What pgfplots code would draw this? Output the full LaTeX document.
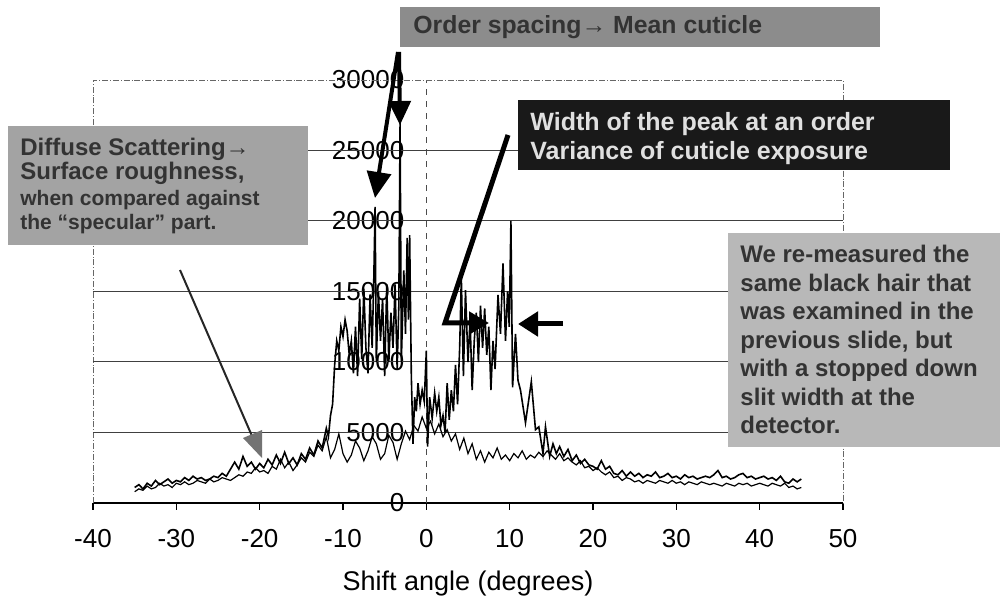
\documentclass[border=0pt]{standalone}
\usepackage{pgfplots}
\pgfplotsset{compat=1.18}
\usepackage{pgfplotstable}
\usetikzlibrary{arrows.meta}
\usepackage{fontspec}
\setmainfont{Liberation Sans}

\definecolor{boxorder}{gray}{0.55}
\definecolor{boxdiffuse}{gray}{0.64}
\definecolor{boxnote}{gray}{0.72}
\definecolor{boxwidth}{gray}{0.1}
\definecolor{inkdark}{gray}{0.2}
\definecolor{inklight}{gray}{0.88}

% narrow slit (stopped-down) scan
\pgfplotstableread{
x y
-35 1100
-34.5 1300
-34 1000
-33.5 1400
-33 1200
-32.5 1600
-32 1300
-31.5 1500
-31 1700
-30.5 1400
-30 1600
-29.5 1500
-29 1800
-28.5 1600
-28 1900
-27.5 1700
-27 1800
-26.5 1600
-26 1700
-25.5 1900
-25 1800
-24.5 2100
-24 1900
-23.5 2400
-23 2900
-22.5 2400
-22 3300
-21.5 2600
-21 2900
-20.5 2400
-20 2800
-19.5 2500
-19 3100
-18.5 2700
-18 3400
-17.5 2800
-17 3600
-16.5 2800
-16 3200
-15.5 2700
-15 3500
-14.5 3100
-14 3900
-13.5 3400
-13 4400
-12.5 3900
-12 5300
-11.75 4700
-11.5 6200
-11.25 7000
-11 9800
-10.75 11500
-10.5 10800
-10.25 12500
-10 11800
-9.75 13000
-9.5 12200
-9.25 10500
-9 11500
-8.75 9200
-8.5 12500
-8.25 9000
-8 14500
-7.75 10200
-7.5 15200
-7.25 11000
-7 9200
-6.75 14800
-6.5 11000
-6.3 16000
-6.15 21000
-6.0 10000
-5.75 15000
-5.5 11500
-5.25 14500
-5 9000
-4.75 15500
-4.5 10000
-4.25 13500
-4 11000
-3.75 15500
-3.5 9500
-3.3 14000
-3.15 27000
-3.0 10000
-2.7 16500
-2.5 12000
-2.3 18800
-2.15 13000
-2.0 19000
-1.8 9000
-1.6 4200
-1.4 7500
-1.2 6500
-1.0 8500
-0.75 7000
-0.5 8000
-0.25 7200
0 10800
0.15 4000
0.4 7500
0.7 6000
1 7800
1.25 6500
1.5 7500
1.75 5500
2 6200
2.25 5000
2.5 8500
2.75 5900
3 8000
3.25 6500
3.5 9800
3.75 7000
4 11000
4.2 16000
4.45 9000
4.7 15100
5 10000
5.25 13000
5.5 8000
5.75 11500
6 13500
6.25 10000
6.5 14000
6.75 11000
7 13800
7.25 10500
7.5 12500
7.75 8000
8 11500
8.25 9500
8.6 14750
8.9 12000
9.2 17000
9.5 11500
9.75 15000
9.95 12500
10.15 20000
10.35 8200
10.7 12000
11 8700
11.3 8000
11.9 5700
12.6 8600
13.1 5200
13.5 5400
14 3500
14.3 5400
14.8 3300
15.2 4200
15.6 3500
16 4000
16.5 3300
17 3800
17.5 3000
18 3400
18.5 2800
19 3100
19.5 2700
20 2600
20.5 2400
21 3000
21.5 2400
22 2600
22.5 2100
23 2000
23.5 2300
24 1900
24.5 2200
25 1900
25.5 2100
26 1800
26.5 2000
27 1900
27.5 2200
28 1800
28.5 1900
29 2100
29.5 1800
30 1900
30.5 1700
31 2000
31.5 1800
32 1900
32.5 1700
33 1800
33.5 1900
34 1800
34.5 2000
35 2300
35.5 1800
36 1900
36.5 1700
37 1800
37.5 2000
38 2100
38.5 1800
39 1900
39.5 1700
40 1800
40.5 1900
41 1700
41.5 1800
42 1600
42.5 1900
43 1500
43.5 1400
44 1700
44.5 1500
45 1700
}\narrowslit

% wide slit scan: broad diffuse profile
\pgfplotstableread{
x y
-35 800
-34.5 1000
-34 900
-33.5 1200
-33 1000
-32.5 1100
-32 1400
-31.5 1200
-31 1300
-30.5 1100
-30 1400
-29.5 1300
-29 1500
-28.5 1300
-28 1400
-27.5 1600
-27 1500
-26.5 1400
-26 1700
-25.5 1500
-25 1600
-24.5 1800
-24 1700
-23.5 1600
-23 1800
-22.5 2000
-22 1900
-21.5 2200
-21 2100
-20.5 2500
-20 2200
-19.5 2300
-19 2100
-18.5 2600
-18 2400
-17.5 3100
-17 2500
-16.5 2900
-16 2300
-15.5 2700
-15 3200
-14.5 2900
-14 3600
-13.5 3300
-13 4100
-12.5 3700
-12 4700
-11.5 3200
-11 3800
-10.5 4900
-10 3500
-9.5 2900
-9 3400
-8.5 4400
-8 3900
-7.5 3000
-7 3700
-6.5 4700
-6 4200
-5.5 3100
-5 3500
-4.5 4800
-4 4300
-3.5 3100
-3 4200
-2.5 5100
-2 4500
-1.5 5500
-1 5100
-0.5 6100
0 5300
0.5 5800
1 4900
1.5 5600
2 4700
2.5 5200
3 4400
3.5 4900
4 3800
4.5 4600
5 3500
5.5 4200
6 3100
6.5 3700
7 2900
7.5 3600
8 3200
8.5 3900
9 3100
9.5 3400
10 3000
10.5 3500
11 3200
11.5 3700
12 3100
12.5 3400
13 3200
13.5 3600
14 3300
14.5 3700
15 3400
15.5 3100
16 3500
16.5 3000
17 3200
17.5 2900
18 2700
18.5 3000
19 2500
19.5 2600
20 2300
20.5 2500
21 2200
21.5 2000
22 2200
22.5 1800
23 1900
23.5 1600
24 1800
24.5 1700
25 1500
25.5 1600
26 1400
26.5 1600
27 1500
27.5 1400
28 1600
28.5 1500
29 1400
29.5 1600
30 1400
30.5 1500
31 1300
31.5 1500
32 1400
32.5 1300
33 1500
33.5 1400
34 1300
34.5 1400
35 1300
35.5 1200
36 1400
36.5 1300
37 1200
37.5 1400
38 1300
38.5 1400
39 1200
39.5 1300
40 1400
40.5 1300
41 1200
41.5 1400
42 1300
42.5 1200
43 1400
43.5 1100
44 1200
44.5 1000
45 1100
}\wideslit

\begin{document}
\begin{tikzpicture}
\begin{axis}[
  scale only axis,
  width=375pt, height=211.5pt,
  xmin=-40, xmax=50, ymin=0, ymax=30000,
  clip=false,
  scaled y ticks=false,
  axis x line=bottom,
  axis y line=middle,
  axis line style={-},
  x axis line style={black, line width=0.8pt},
  y axis line style={black!70, dashed, line width=0.4pt},
  hide obscured x ticks=false,
  hide obscured y ticks=false,
  xtick={-40,-30,...,50},
  xticklabels={-40,-30,-20,-10,0,10,20,30,40,50},
  ytick={0,5000,10000,15000,20000,25000,30000},
  yticklabels={0,5000,10000,15000,20000,25000,30000},
  tick align=outside,
  major tick length=3.5pt,
  xtick style={black, line width=0.6pt},
  ytick style={draw=none},
  tick label style={font=\fontsize{13}{15}\selectfont},
  xticklabel style={yshift=-6pt},
  yticklabel style={xshift=-4pt},
  xlabel={Shift angle (degrees)},
  xlabel style={font=\fontsize{13.5}{16}\selectfont, yshift=-5pt},
]
% frame and horizontal grid
\draw[black!60, densely dashdotted, line width=0.4pt]
  (axis cs:-40,0) -- (axis cs:-40,30000) -- (axis cs:50,30000) -- (axis cs:50,0);
\pgfplotsinvokeforeach{5000,10000,15000,20000,25000}{
  \draw[black!75, line width=0.5pt] (axis cs:-40,#1) -- (axis cs:50,#1);
}
\addplot[black, line width=0.6pt, mark=none] table {\wideslit};
\addplot[black, line width=0.8pt, mark=none] table {\narrowslit};
\coordinate (O) at (axis cs:-40,0);
\end{axis}

% annotation layer, in a 1000 x 600 unit frame
\begin{scope}[shift={(O)}, xshift=-46.5pt, yshift=251.5pt, x=0.5pt, y=-0.5pt]
\path (0,0) rectangle (1000,600);

% order spacing note
\fill[boxorder] (400,7) rectangle (880,47);
\node[anchor=west, text=inkdark, font=\bfseries\fontsize{12.4}{14}\selectfont, inner sep=0pt]
  at (413,27) {Order spacing→ Mean cuticle};
\draw[line width=2pt, -{Triangle[length=13pt,width=12pt]}] (398,52) -- (375,198);
\draw[line width=2pt, -{Triangle[length=12pt,width=11pt]}] (399,52) -- (400,125);

% diffuse scattering note
\fill[boxdiffuse] (8,126) rectangle (308,245);
\node[anchor=north west, text=inkdark, inner sep=0pt, align=left] at (20,138) {%
  \fontsize{12}{14.5}\selectfont\bfseries Diffuse Scattering→\\
  \fontsize{12}{14.5}\selectfont\bfseries Surface roughness,\\[1pt]
  \fontsize{10.5}{12}\selectfont\bfseries when compared against\\
  \fontsize{10.5}{12}\selectfont\bfseries the “specular” part.};
\draw[black!85, line width=1pt] (180,270) -- (252,436);
\fill[black!55] (262,458) -- (243,438) -- (262,430) -- cycle;

% peak width note
\fill[boxwidth] (518,100) rectangle (950,170);
\node[anchor=north west, text=inklight, inner sep=0pt, align=left,
      font=\bfseries\fontsize{12.5}{14.5}\selectfont] at (530,112)
  {Width of the peak at an order\\Variance of cuticle exposure};
\draw[line width=2.5pt, -{Triangle[length=10pt,width=11pt]}]
  (508,135) -- (445,323) -- (489,323);
\draw[line width=2.5pt, -{Triangle[length=10pt,width=12pt]}] (563,324) -- (518,324);

% measurement note
\fill[boxnote] (728,233) rectangle (1000,447);
\node[anchor=north west, text=inkdark, inner sep=0pt, align=left,
      font=\bfseries\fontsize{12}{14.25}\selectfont] at (740,245)
  {We re-measured the\\same black hair that\\was examined in the\\previous slide, but\\with a stopped down\\slit width at the\\detector.};
\end{scope}
\end{tikzpicture}
\end{document}
